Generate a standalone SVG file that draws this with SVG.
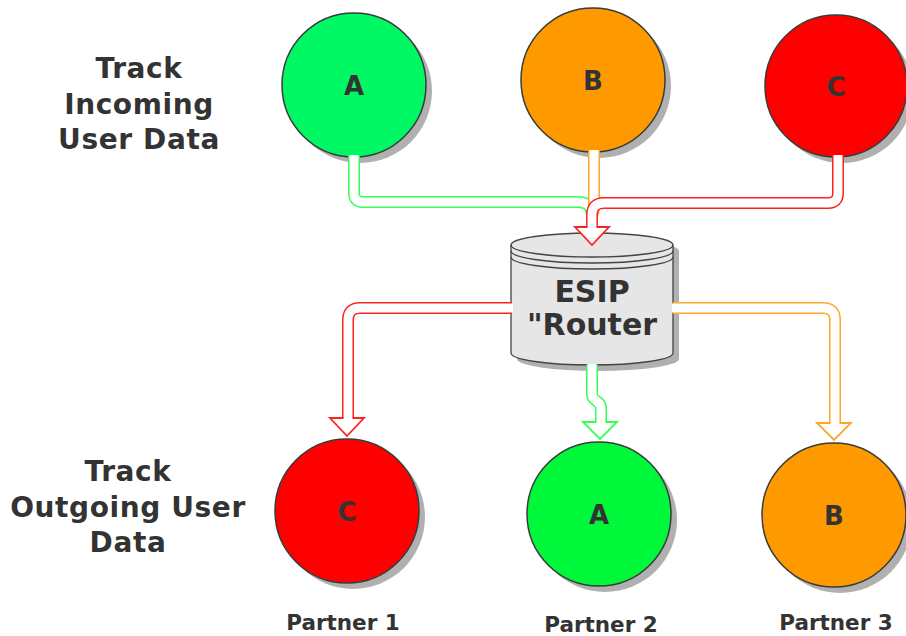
<svg xmlns="http://www.w3.org/2000/svg" width="906" height="636" viewBox="0 0 906 636">
  <style>
    .lbl { font-family: "DejaVu Sans", Verdana, sans-serif; font-weight: bold; fill: #333333; text-anchor: middle; }
    .side { font-size: 28px; letter-spacing: 0.6px; }
    .node { font-size: 26px; }
    .partner { font-size: 21.5px; }
    .shadow { fill: #b0b0b0; }
    .ring { stroke: #3a3a3a; stroke-width: 1.5; }
    .pipe { fill: none; stroke-width: 12; stroke-linejoin: round; }
    .pipe-in { fill: none; stroke: #ffffff; stroke-width: 9; stroke-linejoin: round; }
    .head { fill: #ffffff; stroke-width: 1.8; stroke-linejoin: miter; }
    .g { stroke: #33ff55; }
    .o { stroke: #ffa626; }
    .r { stroke: #ff2020; }
  </style>

  <rect width="906" height="636" fill="#ffffff"/>

  <!-- side captions -->
  <g id="caption-incoming">
    <text class="lbl side" x="139" y="78">Track</text>
    <text class="lbl side" x="139" y="114">Incoming</text>
    <text class="lbl side" x="139" y="149">User Data</text>
  </g>
  <g id="caption-outgoing">
    <text class="lbl side" x="128" y="481">Track</text>
    <text class="lbl side" x="128" y="517">Outgoing User</text>
    <text class="lbl side" x="128" y="552">Data</text>
  </g>

  <!-- incoming sources -->
  <g id="src-a">
    <circle class="shadow" cx="360" cy="91" r="72"/>
    <circle class="ring" cx="354" cy="85" r="72" fill="#00f864"/>
    <text class="lbl node" x="354" y="95">A</text>
  </g>
  <g id="src-b">
    <circle class="shadow" cx="599" cy="86" r="72"/>
    <circle class="ring" cx="593" cy="80" r="72" fill="#ff9900"/>
    <text class="lbl node" x="593" y="90">B</text>
  </g>
  <g id="src-c">
    <circle class="shadow" cx="842" cy="92" r="71"/>
    <circle class="ring" cx="836" cy="86" r="71" fill="#ff0000"/>
    <text class="lbl node" x="836" y="96">C</text>
  </g>

  <!-- router cylinder -->
  <g id="router">
    <path class="shadow" d="M517,251 A81,12 0 0 1 679,251 V359 A81,12 0 0 1 517,359 Z"/>
    <path d="M511,245 A81,12 0 0 1 673,245 V353 A81,12 0 0 1 511,353 Z" fill="#e6e6e6" stroke="#444444" stroke-width="1.3"/>
    <path d="M511,245 A81,12 0 0 0 673,245" fill="none" stroke="#444444" stroke-width="1.3"/>
    <path d="M511,251 A81,12 0 0 0 673,251" fill="none" stroke="#444444" stroke-width="1.3"/>
    <path d="M511,257 A81,12 0 0 0 673,257" fill="none" stroke="#444444" stroke-width="1.3"/>
    <text class="lbl" style="font-size:30px" x="592" y="302">ESIP</text>
    <text class="lbl" style="font-size:30px" x="592" y="335">"Router</text>
  </g>

  <!-- partner destinations -->
  <g id="dst-partner1">
    <circle class="shadow" cx="353" cy="517" r="72"/>
    <circle class="ring" cx="347" cy="511" r="72" fill="#ff0000"/>
    <text class="lbl node" x="347" y="521">C</text>
    <text class="lbl partner" x="343" y="630">Partner 1</text>
  </g>
  <g id="dst-partner2">
    <circle class="shadow" cx="605" cy="520" r="72"/>
    <circle class="ring" cx="599" cy="514" r="72" fill="#00f83a"/>
    <text class="lbl node" x="599" y="524">A</text>
    <text class="lbl partner" x="601" y="632">Partner 2</text>
  </g>
  <g id="dst-partner3">
    <circle class="shadow" cx="840" cy="521" r="72"/>
    <circle class="ring" cx="834" cy="515" r="72" fill="#ff9900"/>
    <text class="lbl node" x="834" y="525">B</text>
    <text class="lbl partner" x="836" y="630">Partner 3</text>
  </g>

  <!-- hollow double-line connectors -->
  <g id="connectors">
    <!-- A -> router -->
    <path class="pipe g" d="M354,156 V193 Q354,202 363,202 H578 Q592,202 592,216 V228"/>
    <path class="pipe-in" d="M354,155 V193 Q354,202 363,202 H578 Q592,202 592,216 V229"/>
    <!-- B -> router -->
    <path class="pipe o" d="M594,151 V206 Q594,212 592,216 V228"/>
    <path class="pipe-in" d="M594,150 V206 Q594,212 592,216 V229"/>
    <!-- C -> router -->
    <path class="pipe r" d="M838,156 V193 Q838,203 828,203 H604 Q592,203 592,215 V228"/>
    <path class="pipe-in" d="M838,155 V193 Q838,203 828,203 H604 Q592,203 592,215 V229"/>
    <path class="head r" d="M587.5,227 H575 L592,245 L609,227 H596.5"/>

    <!-- router -> partner 1 -->
    <path class="pipe r" d="M512,308 H360 Q348,308 348,320 V419"/>
    <path class="pipe-in" d="M513,308 H360 Q348,308 348,320 V420"/>
    <path class="head r" d="M343.5,418 H330 L347,436 L364,418 H352.5"/>

    <!-- router -> partner 2 -->
    <path class="pipe g" d="M592,365 V394 C592,402 601,400 601,408 V423"/>
    <path class="pipe-in" d="M592,364 V394 C592,402 601,400 601,408 V424"/>
    <path class="head g" d="M596.5,422 H583 L600,439 L617,422 H605.5"/>

    <!-- router -> partner 3 -->
    <path class="pipe o" d="M673,308 H823 Q835,308 835,320 V424"/>
    <path class="pipe-in" d="M672,308 H823 Q835,308 835,320 V425"/>
    <path class="head o" d="M830.5,423 H817 L834,440 L851,423 H839.5"/>
  </g>
</svg>
